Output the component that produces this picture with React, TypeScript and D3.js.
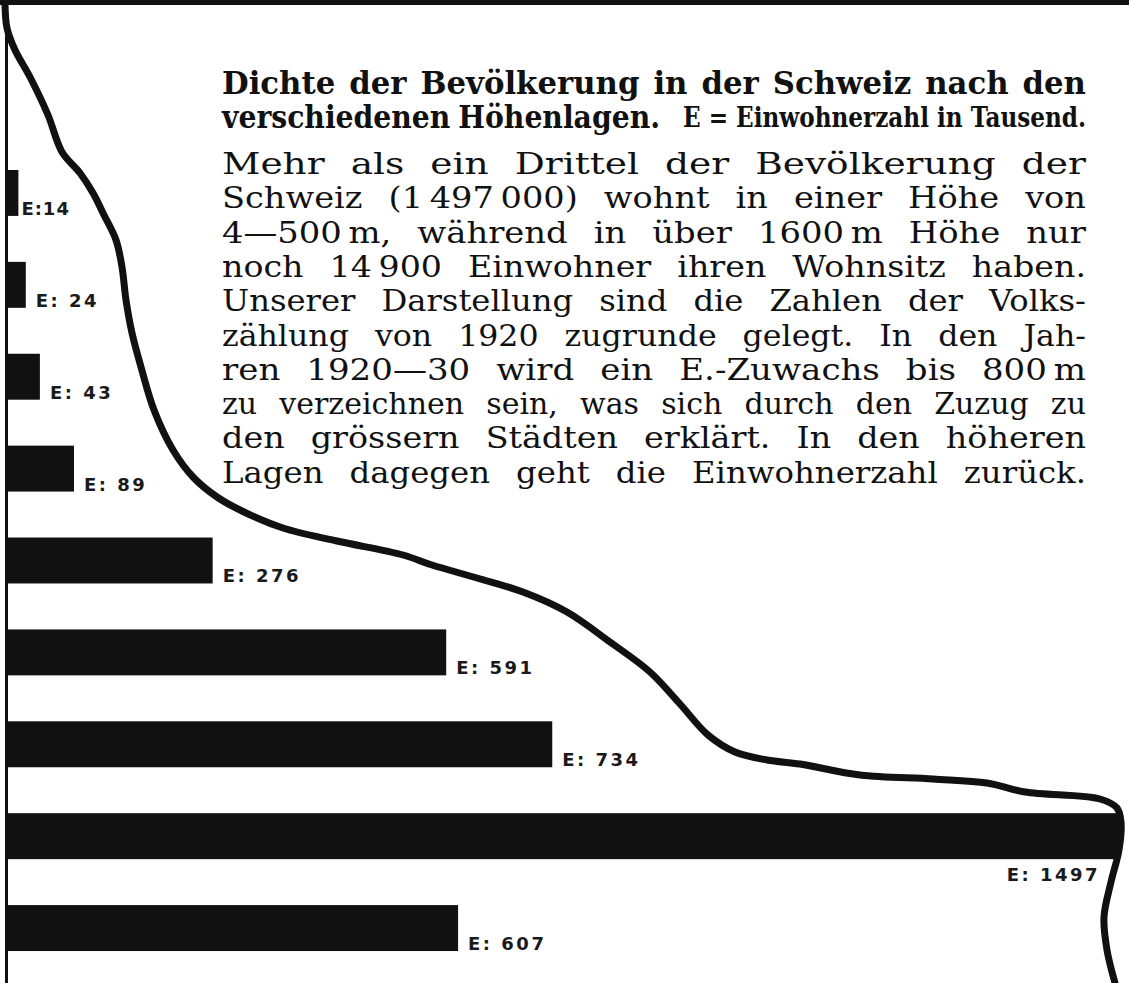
import React, { useEffect, useRef } from 'react';
import * as d3 from 'd3';

// altitude zones, highest first (the picture shows no names for them)
const zones = ['z1', 'z2', 'z3', 'z4', 'z5', 'z6', 'z7', 'z8', 'z9'];
// inhabitants in thousands (E)
const inhabitants = [14, 24, 43, 89, 276, 591, 734, 1497, 607];
const valueLabels = ['E:14', 'E: 24', 'E: 43', 'E: 89', 'E: 276', 'E: 591', 'E: 734', 'E: 1497', 'E: 607'];

const titleLine1 = 'Dichte der Bevölkerung in der Schweiz nach den';
const titleLine2 = 'verschiedenen Höhenlagen.';
const legendText = 'E = Einwohnerzahl in Tausend.';

// U+202F keeps number groups and units together
const bodyLines = [
  'Mehr als ein Drittel der Bevölkerung der',
  'Schweiz (1\u202F497\u202F000) wohnt in einer Höhe von',
  '4—500\u202Fm, während in über 1600\u202Fm Höhe nur',
  'noch 14\u202F900 Einwohner ihren Wohnsitz haben.',
  'Unserer Darstellung sind die Zahlen der Volks-',
  'zählung von 1920 zugrunde gelegt. In den Jah-',
  'ren 1920—30 wird ein E.-Zuwachs bis 800\u202Fm',
  'zu verzeichnen sein, was sich durch den Zuzug zu',
  'den grössern Städten erklärt. In den höheren',
  'Lagen dagegen geht die Einwohnerzahl zurück.',
];

// mountain outline
const ridge: [number, number][] = [
  [5, 4], [7, 28], [15, 50], [30, 77], [48, 115], [62, 152], [80, 173], [93, 193],
  [104, 215], [116, 240], [122, 267], [126, 300], [132, 333], [141, 367], [154, 410],
  [173, 450], [193, 477], [217, 497], [242, 511], [283, 528], [337, 541], [403, 555],
  [432, 565], [477, 578], [523, 592], [567, 612], [610, 642], [650, 672], [680, 704],
  [708, 735], [735, 752], [767, 760], [800, 764], [860, 775], [933, 779], [987, 783],
  [1025, 792], [1100, 799], [1117, 808], [1121, 822], [1119, 850], [1111, 882],
  [1104, 917], [1107, 950], [1115, 983],
];

const W = 1129;
const H = 983;

const App = () => {
  const svgRef = useRef<SVGSVGElement>(null);

  useEffect(() => {
    const svg = d3.select(svgRef.current);
    svg.selectAll('*').remove();

    svg.append('rect').attr('width', W).attr('height', H).attr('fill', '#fff');

    const x = d3.scaleLinear().domain([0, 1497]).range([8, 1118]);
    const y = d3.scaleBand().domain(zones).range([147, 974]).paddingInner(0.5).paddingOuter(0.25);

    // frame
    svg.append('rect').attr('x', 0).attr('y', 0).attr('width', W).attr('height', 5).attr('fill', '#111');
    svg.append('rect').attr('x', 5).attr('y', 0).attr('width', 3).attr('height', H).attr('fill', '#111');

    // bars
    svg.append('g')
      .selectAll('rect')
      .data(inhabitants)
      .enter()
      .append('rect')
      .attr('x', x(0))
      .attr('y', (d, i) => y(zones[i]))
      .attr('width', d => x(d) - x(0))
      .attr('height', y.bandwidth())
      .attr('fill', '#111');

    // value labels
    svg.append('g')
      .selectAll('text')
      .data(inhabitants)
      .enter()
      .append('text')
      .attr('x', (d, i) => d === 1497 ? x(d) - 18 : x(d) + (i === 0 ? 3 : 10))
      .attr('y', (d, i) => d === 1497 ? y(zones[i]) + y.bandwidth() + 22 : y(zones[i]) + y.bandwidth() - 1)
      .attr('text-anchor', d => d === 1497 ? 'end' : 'start')
      .style('font-family', '"DejaVu Sans", sans-serif')
      .style('font-weight', 'bold')
      .style('font-size', '18px')
      .style('letter-spacing', (d, i) => i === 0 ? '1px' : '2.5px')
      .style('fill', '#1a1a1a')
      .text((d, i) => valueLabels[i]);

    // mountain outline
    const line = d3.line().curve(d3.curveCatmullRom.alpha(0.5));
    svg.append('path')
      .attr('d', line(ridge))
      .attr('fill', 'none')
      .attr('stroke', '#111')
      .attr('stroke-width', 7)
      .attr('stroke-linecap', 'round')
      .attr('stroke-linejoin', 'round');

    // justified text lines: extra room goes into the word gaps up to maxGap,
    // beyond that the glyphs are widened; too little room squeezes them
    const justify = (g, str, x0, width, baseline, minGap, maxGap) => {
      const words = str.split(' ').filter(w => w.length);
      const nodes = words.map(w => g.append('text').attr('y', baseline).text(w));
      const widths = nodes.map(n => n.node().getComputedTextLength());
      const total = d3.sum(widths);
      const nGaps = Math.max(words.length - 1, 1);
      let gap = (width - total) / nGaps;
      let k = 1;
      if (gap < minGap) {
        gap = minGap;
        k = (width - gap * nGaps) / total;
      } else if (gap > maxGap) {
        gap = maxGap;
        k = (width - gap * nGaps) / total;
      }
      let cx = x0;
      nodes.forEach((n, i) => {
        n.attr('x', cx);
        if (Math.abs(k - 1) > 0.001) n.attr('textLength', widths[i] * k).attr('lengthAdjust', 'spacingAndGlyphs');
        cx += widths[i] * k + gap;
      });
    };

    const left = 222;
    const right = 1086;

    const title = svg.append('g')
      .style('font-family', '"DejaVu Serif Condensed", "DejaVu Serif", serif')
      .style('font-weight', 'bold')
      .style('font-size', '32px')
      .style('fill', '#111');
    justify(title, titleLine1, left, right - left, 94, 8, 14);
    justify(title, titleLine2, left, 438, 128, 8, 14);

    svg.append('text')
      .attr('x', 683)
      .attr('y', 127)
      .attr('textLength', right - 683)
      .attr('lengthAdjust', 'spacingAndGlyphs')
      .style('font-family', '"DejaVu Serif Condensed", "DejaVu Serif", serif')
      .style('font-weight', 'bold')
      .style('font-size', '27px')
      .style('fill', '#111')
      .text(legendText);

    const body = svg.append('g')
      .style('font-family', '"DejaVu Serif", serif')
      .style('font-size', '30px')
      .style('fill', '#111');
    bodyLines.forEach((l, i) => justify(body, l, left, right - left, 174 + i * 34.3, 8, 26));
  }, []);

  return (
    <div style={{ position: 'absolute', left: 0, top: 0, width: W, height: H, background: '#fff' }}>
      <svg ref={svgRef} width={W} height={H} style={{ display: 'block' }}></svg>
    </div>
  );
};

export default App;
